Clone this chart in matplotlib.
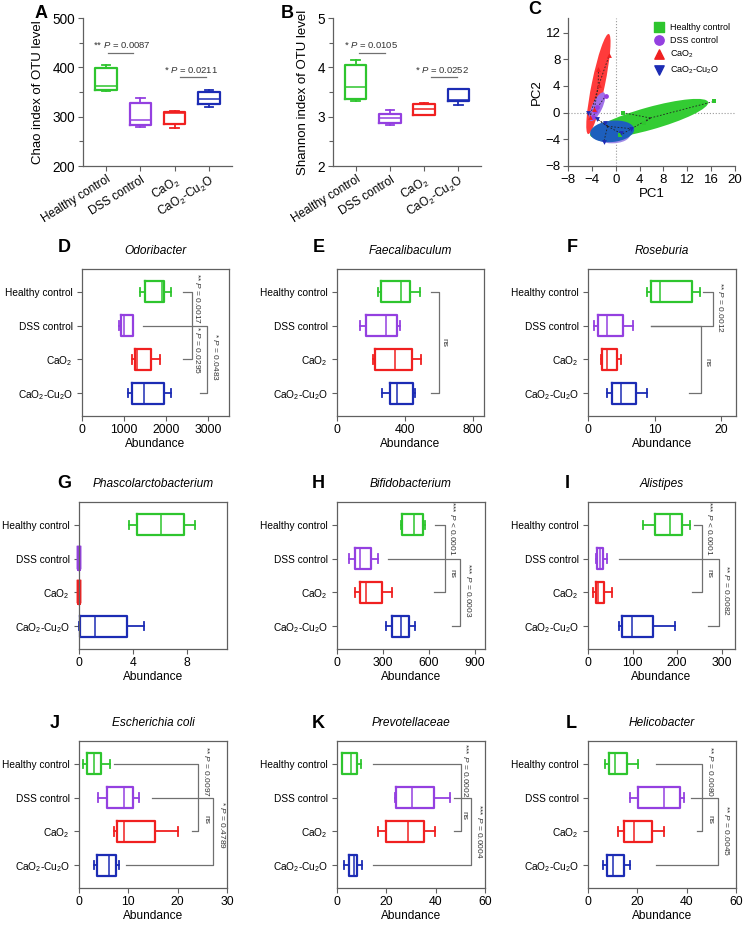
import matplotlib
matplotlib.use('Agg')
import matplotlib.pyplot as plt
from matplotlib.patches import Ellipse
import numpy as np

plt.rcParams['font.family'] = ['Liberation Sans', 'DejaVu Sans']
plt.rcParams['mathtext.fontset'] = 'custom'
plt.rcParams['mathtext.rm'] = 'Liberation Sans'
plt.rcParams['mathtext.it'] = 'Liberation Sans:italic'
plt.rcParams['mathtext.bf'] = 'Liberation Sans:bold'

# ---------------- data ----------------
groups = ['Healthy control', 'DSS control', r'CaO$_2$', r'CaO$_2$-Cu$_2$O']
colors = ['#2ec52e', '#9440e0', '#f02020', '#1c2cb4']

# five-number summaries per group: [min, q1, median, q3, max]
chao = [[353, 355, 363, 398, 405], [280, 283, 293, 327, 338],
        [278, 286, 308, 310, 311], [320, 325, 335, 350, 355]]
shannon = [[3.31, 3.36, 3.60, 4.04, 4.14], [2.84, 2.88, 2.97, 3.06, 3.13],
           [3.03, 3.04, 3.15, 3.26, 3.27], [3.24, 3.32, 3.34, 3.56, 3.57]]

odoribacter = [[1380, 1490, 1910, 1960, 2110], [880, 920, 1000, 1210, 1220],
               [1185, 1265, 1320, 1635, 1850], [1105, 1200, 1480, 1950, 2125]]
faecalibaculum = [[240, 257, 375, 431, 488], [135, 171, 288, 355, 371],
                  [214, 222, 343, 439, 494], [267, 312, 351, 447, 459]]
roseburia = [[8.8, 9.4, 10.8, 15.6, 16.8], [0.95, 1.45, 2.9, 5.3, 6.8],
             [2.0, 2.05, 2.8, 4.3, 5.0], [2.9, 3.6, 4.9, 7.2, 8.8]]
phascolarcto = [[3.7, 4.3, 6.1, 7.8, 8.6], [0, 0, 0, 0, 0],
                [0, 0, 0, 0, 0], [0, 0.05, 1.2, 3.6, 4.8]]
bifido = [[418, 427, 499, 558, 575], [80, 116, 150, 220, 266],
          [120, 150, 190, 292, 361], [320, 361, 418, 471, 510]]
alistipes = [[124, 150, 185, 210, 228], [18, 21, 27, 34, 43],
             [12, 17, 23, 37, 53], [70, 76, 98, 145, 196]]
ecoli = [[0.9, 1.7, 3.1, 4.4, 6.2], [3.9, 5.6, 9.1, 10.9, 12.1],
         [7.1, 7.7, 9.1, 15.4, 20.1], [3.05, 3.7, 6.0, 7.5, 8.1]]
prevotellaceae = [[2.0, 2.0, 5.5, 8.2, 9.9], [23.5, 23.8, 30.6, 39.5, 46.0],
                  [16.5, 19.9, 28.6, 35.1, 39.6], [2.7, 4.8, 6.8, 8.2, 10.0]]
helicobacter = [[7.0, 8.4, 11.1, 16.0, 20.2], [16.9, 20.1, 30.9, 37.4, 39.0],
                [12.1, 14.7, 18.7, 25.9, 31.0], [5.9, 7.7, 10.1, 14.4, 16.9]]

# PCA scores
pc_healthy_x = [16.5, 1.2, 4.8, 0.7]
pc_healthy_y = [1.7, 0.0, -1.5, -3.4]
pc_dss_x = [-1.7, -3.2, -3.8, -3.5]
pc_dss_y = [2.5, 0.9, -0.6, 0.3]
pc_cao2_x = [-1.1, -2.9, -2.8, -4.3, -3.6]
pc_cao2_y = [8.6, 6.6, 4.2, -0.6, 0.5]
pc_cu_x = [-4.6, -3.2, -1.8, -2.0, 0.85, 2.6]
pc_cu_y = [0.0, -0.9, -1.5, -4.4, -3.1, -2.4]
# confidence ellipses: centre x, centre y, width, height, angle
ell_healthy = [5.6, -0.9, 20.4, 3.4, 14]
ell_dss = [-3.1, 0.9, 4.8, 1.7, 62]
ell_dss_low = [-0.6, -3.3, 6.0, 2.6, 0]
ell_cao2 = [-2.9, 4.3, 15.4, 2.2, 77]
ell_cu = [-0.6, -2.8, 7.4, 3.2, 5]

# ---------------- layout helpers ----------------
W, H = 744, 926
fig = plt.figure(figsize=(W / 100, H / 100), dpi=100)

def ax_at(l, t, r, b):
    return fig.add_axes([l / W, 1 - b / H, (r - l) / W, (b - t) / H])

def letter(x, y, s):
    fig.text(x / W, 1 - y / H, s, fontsize=13, fontweight='bold', ha='left', va='center')

SPC = '#606060'
BRK = '#707070'

def style_spines(ax, sides):
    for s in ['left', 'right', 'top', 'bottom']:
        ax.spines[s].set_visible(s in sides)
        ax.spines[s].set_color(SPC)
        ax.spines[s].set_linewidth(0.9)
    ax.tick_params(direction='out', length=3.5, width=0.8, color=SPC, pad=2)

def draw_boxes(ax, data, orientation):
    for i, (d, c) in enumerate(zip(data, colors)):
        st = dict(whislo=d[0], q1=d[1], med=d[2], q3=d[3], whishi=d[4], fliers=[])
        flat = d[1] == d[3]
        arts = ax.bxp([st], positions=[i], widths=0.62, capwidths=0.26,
                      showfliers=False, orientation=orientation,
                      boxprops=dict(color=c, lw=3.2 if flat else 1.6),
                      whiskerprops=dict(color=c, lw=1.3),
                      capprops=dict(color=c, lw=1.3),
                      medianprops=dict(color=c, lw=1.1))
        for k in arts:
            for a in arts[k]:
                a.set_clip_on(False)

def vpanel(ax, data, ylim, yticks, minor, ylabel, ann):
    draw_boxes(ax, data, 'vertical')
    style_spines(ax, ['left', 'bottom'])
    ax.set_xlim(-0.67, 3.67)
    ax.set_ylim(*ylim)
    ax.set_yticks(yticks)
    ax.set_yticks(minor, minor=True)
    ax.tick_params(which='minor', direction='out', length=3, width=0.8, color=SPC)
    ax.tick_params(axis='y', labelsize=9.8)
    ax.set_xticks(range(4))
    ax.set_xticklabels(groups, rotation=32, ha='right', rotation_mode='anchor', fontsize=8.5)
    ax.set_ylabel(ylabel, fontsize=9.5, labelpad=6)
    for (x0, x1, yl, tx, ty, s) in ann:
        ax.plot([x0, x1], [yl, yl], color=BRK, lw=0.9, clip_on=False)
        ax.text(tx, ty, s, fontsize=6.8, ha='center', va='center', color='#333333')

def hpanel(ax, data, xlim, xticks, title, lines, texts):
    draw_boxes(ax, data, 'horizontal')
    style_spines(ax, ['left', 'right', 'top', 'bottom'])
    ax.set_ylim(3.68, -0.68)
    ax.set_yticks(range(4))
    ax.set_yticklabels(groups, fontsize=7.3)
    ax.set_xlim(*xlim)
    ax.set_xticks(xticks)
    ax.tick_params(axis='x', labelsize=8.8)
    ax.tick_params(axis='y', pad=3)
    ax.set_xlabel('Abundance', fontsize=8.6, labelpad=2)
    ax.set_title(title, fontsize=8.6, style='italic', pad=11)
    for xs, ys in lines:
        ax.plot(xs, ys, color=BRK, lw=0.9, clip_on=False)
    for (tx, ty, s) in texts:
        ax.text(tx, ty, s, rotation=-90, fontsize=6.0, ha='center', va='center',
                color='#333333', clip_on=False)

def pv(stars, val, op='='):
    return stars + r' $\it{P}$ ' + op + ' ' + val

def bracket(x_start_a, x_start_b, x_v, ya, yb):
    return ([x_start_a, x_v, x_v, x_start_b], [ya, ya, yb, yb])

# ---------------- A ----------------
axA = ax_at(83, 18, 232, 166)
vpanel(axA, chao, (200, 500), [200, 300, 400, 500], [250, 350, 450],
       'Chao index of OTU level',
       [(0.06, 0.79, 430, 0.45, 446, pv('**', '0.0087')),
        (2.16, 2.92, 380, 2.48, 394, pv('*', '0.0211'))])
letter(35, 13, 'A')

# ---------------- B ----------------
axB = ax_at(333, 18, 481, 166)
vpanel(axB, shannon, (2, 5), [2, 3, 4, 5], [2.5, 3.5, 4.5],
       'Shannon index of OTU level',
       [(0.09, 0.85, 4.30, 0.44, 4.45, pv('*', '0.0105')),
        (2.21, 2.97, 3.80, 2.54, 3.95, pv('*', '0.0252'))])
letter(281, 13, 'B')

# ---------------- C ----------------
axC = ax_at(568, 18, 735, 166)
style_spines(axC, ['left', 'bottom'])
axC.set_xlim(-8, 20)
axC.set_ylim(-8, 14.2)
axC.set_xticks(range(-8, 21, 4))
axC.set_yticks(range(-8, 13, 4))
axC.tick_params(labelsize=9.5)
axC.set_xlabel('PC1', fontsize=9.5, labelpad=2)
axC.set_ylabel('PC2', fontsize=9.5, labelpad=2)
axC.axhline(0, color='#999999', lw=0.8, ls=':', zorder=0.5)
axC.axvline(0, color='#999999', lw=0.8, ls=':', zorder=0.5)
for e, c, z in [(ell_healthy, '#33cc33', 1), (ell_cao2, '#ff3b3b', 2),
                (ell_dss_low, '#9f8ae6', 2.5), (ell_cu, '#1d5fbd', 3), (ell_dss, '#a070e8', 3.5)]:
    axC.add_patch(Ellipse((e[0], e[1]), e[2], e[3], angle=e[4], facecolor=c,
                          edgecolor='none', zorder=z))
pcs = [(pc_healthy_x, pc_healthy_y, 's', colors[0], 'Healthy control'),
       (pc_dss_x, pc_dss_y, 'o', '#9440e0', 'DSS control'),
       (pc_cao2_x, pc_cao2_y, '^', colors[2], r'CaO$_2$'),
       (pc_cu_x, pc_cu_y, 'v', colors[3], r'CaO$_2$-Cu$_2$O')]
handles = []
for xs, ys, m, c, lab in pcs:
    cx, cy = np.mean(xs), np.mean(ys)
    for x, y in zip(xs, ys):
        axC.plot([cx, x], [cy, y], color='#222222', lw=0.6, ls=(0, (2, 2)), zorder=4)
    axC.scatter(xs, ys, marker=m, s=12, color=c, zorder=5, linewidths=0)
    handles.append(axC.scatter([], [], marker=m, s=45, color=c, label=lab))
axC.legend(handles=handles, loc='upper right', fontsize=6.5, frameon=False,
           handletextpad=0.3, labelspacing=0.45, borderaxespad=0.1,
           bbox_to_anchor=(1.0, 1.0))
letter(528, 10, 'C')

# ---------------- D ----------------
axD = ax_at(82, 269, 229, 416)
hpanel(axD, odoribacter, (0, 3500), [0, 1000, 2000, 3000], 'Odoribacter',
       [bracket(2400, 2400, 2620, 0, 2), bracket(1450, 2810, 2980, 1, 3)],
       [(2740, 0.2, pv('**', '0.0017')), (2740, 1.72, pv('*', '0.0295')),
        (3190, 1.94, pv('*', '0.0483'))])
letter(58, 247, 'D')

# ---------------- E ----------------
axE = ax_at(337, 269, 484, 416)
hpanel(axE, faecalibaculum, (0, 865), [0, 400, 800], 'Faecalibaculum',
       [bracket(553, 553, 600, 0, 3)],
       [(629, 1.5, 'ns')])
letter(313, 247, 'E')

# ---------------- F ----------------
axF = ax_at(588, 269, 736, 416)
hpanel(axF, roseburia, (0, 22.2), [0, 10, 20], 'Roseburia',
       [bracket(17.3, 9.5, 18.8, 0, 1), bracket(9.5, 15.2, 17.0, 1, 3)],
       [(19.85, 0.46, pv('**', '0.0012')), (17.9, 2.08, 'ns')])
letter(567, 247, 'F')

# ---------------- G ----------------
axG = ax_at(79, 502, 227, 649)
hpanel(axG, phascolarcto, (0, 11), [0, 4, 8], 'Phascolarctobacterium', [], [])
letter(57, 483, 'G')

# ---------------- H ----------------
axH = ax_at(337, 502, 485, 649)
hpanel(axH, bifido, (0, 965), [0, 300, 600, 900], 'Bifidobacterium',
       [bracket(641, 634, 706, 0, 2), bracket(335, 750, 804, 1, 3)],
       [(750, 0.1, pv('***', '0.0001', '<')), (750, 1.45, 'ns'),
        (858, 1.94, pv('***', '0.0003'))])
letter(312, 483, 'H')

# ---------------- I ----------------
axI = ax_at(588, 502, 735, 649)
hpanel(axI, alistipes, (0, 330), [0, 100, 200, 300], 'Alistipes',
       [bracket(237, 233, 257, 0, 2), bracket(70, 270, 293, 1, 3)],
       [(272, 0.1, pv('***', '0.0001', '<')), (272, 1.45, 'ns'),
        (310, 1.95, pv('**', '0.0082'))])
letter(565, 483, 'I')

# ---------------- J ----------------
axJ = ax_at(79, 741, 227, 888)
hpanel(axJ, ecoli, (0, 30), [0, 10, 20, 30], 'Escherichia coli',
       [bracket(7.0, 22.9, 24.2, 0, 2), bracket(14.8, 9.6, 27.2, 1, 3)],
       [(25.8, 0.23, pv('**', '0.0097')), (25.8, 1.66, 'ns'),
        (29.0, 1.81, pv('*', '0.4789'))])
letter(50, 723, 'J')

# ---------------- K ----------------
axK = ax_at(337, 741, 485, 888)
hpanel(axK, prevotellaceae, (0, 60), [0, 20, 40, 60], 'Prevotellaceae',
       [bracket(14.7, 47.6, 50.4, 0, 2), bracket(47.6, 14.7, 54.2, 1, 3)],
       [(52.1, 0.2, pv('***', '0.0002')), (51.3, 1.52, 'ns'),
        (57.8, 2.0, pv('***', '0.0004'))])
letter(312, 723, 'K')

# ---------------- L ----------------
axL = ax_at(588, 741, 736, 888)
hpanel(axL, helicobacter, (0, 60), [0, 20, 40, 60], 'Helicobacter',
       [bracket(27.5, 44.1, 46.2, 0, 2), bracket(41.7, 27.5, 52.5, 1, 3)],
       [(49.5, 0.23, pv('**', '0.0080')), (49.5, 1.66, 'ns'),
        (56.3, 1.98, pv('**', '0.0045'))])
letter(566, 723, 'L')

fig.savefig('out.png', dpi=100)
